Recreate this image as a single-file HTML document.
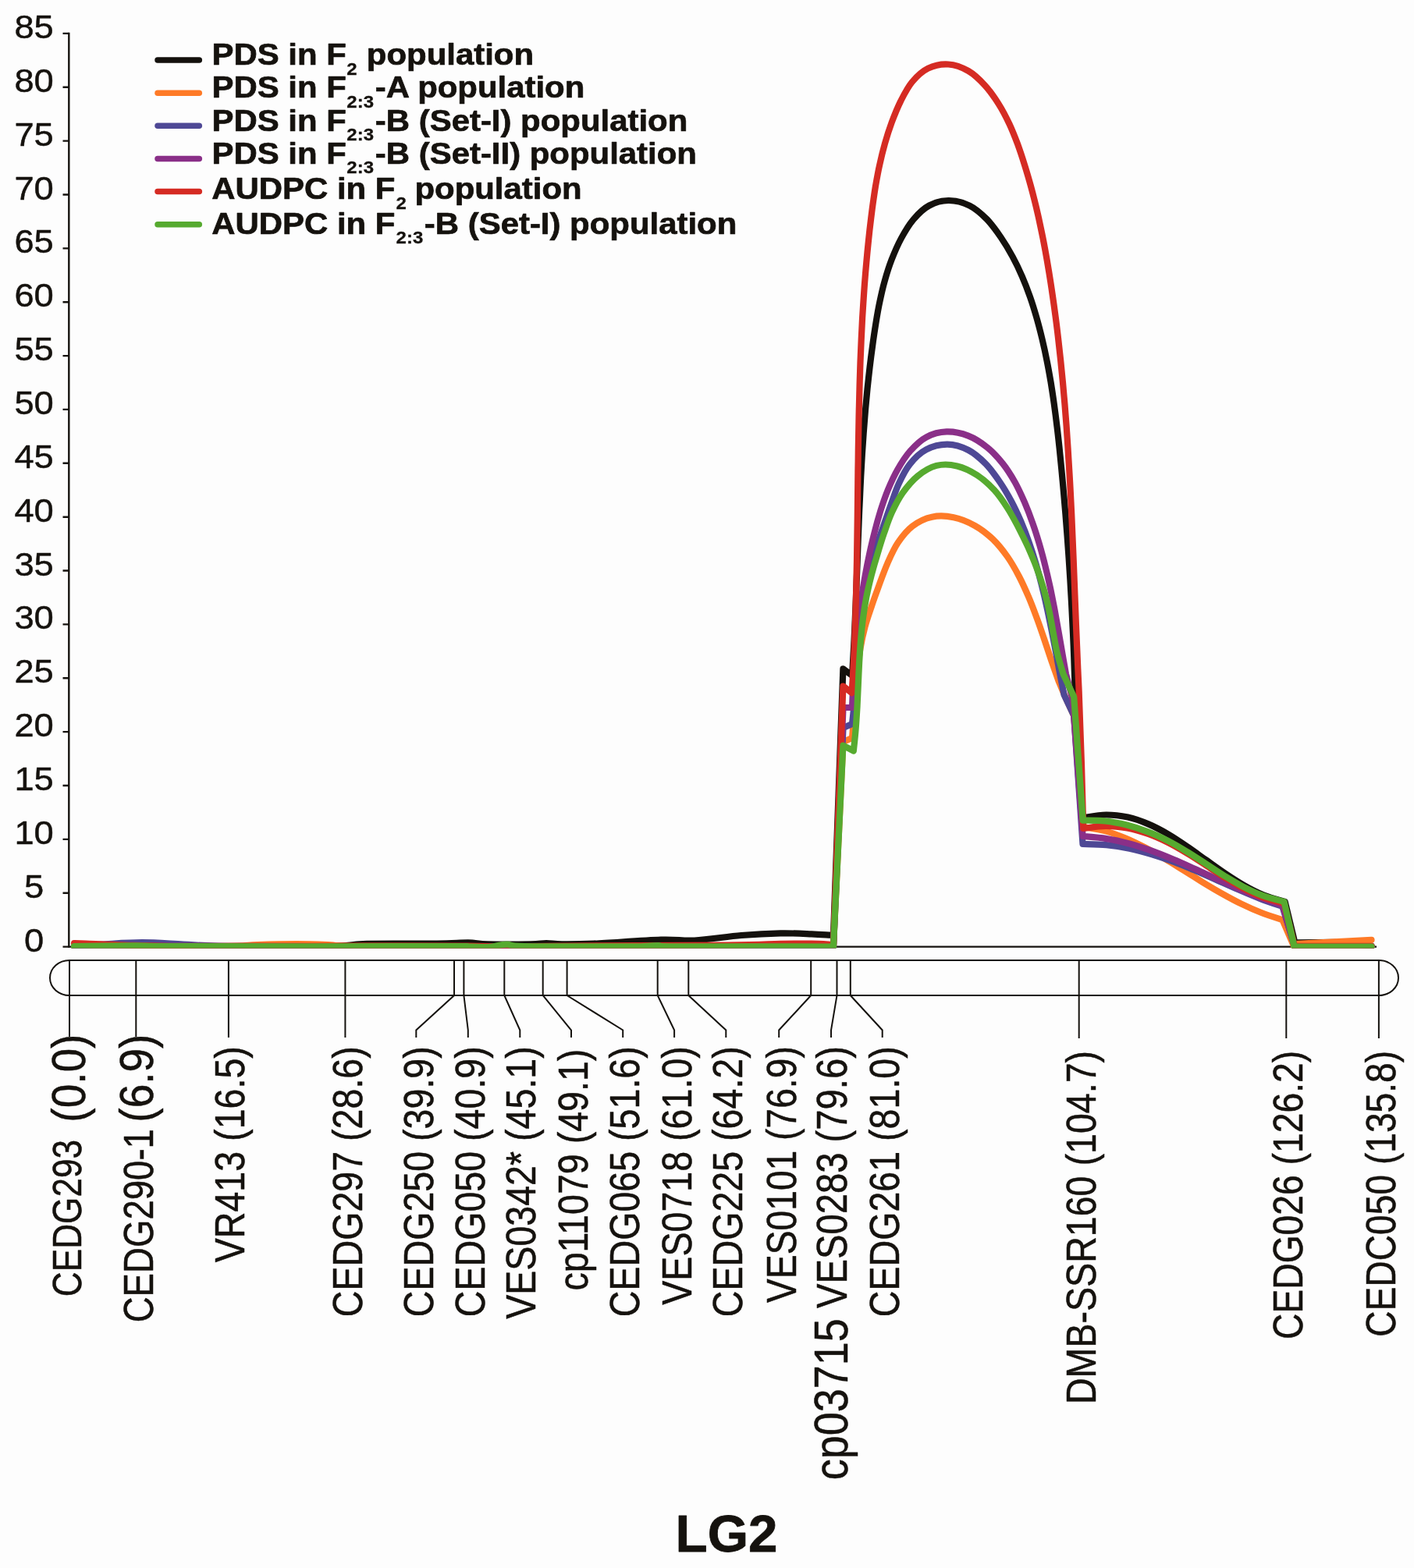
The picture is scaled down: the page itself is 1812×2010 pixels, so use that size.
<!DOCTYPE html>
<html lang="en">
<head>
<meta charset="utf-8">
<title>LG2 QTL likelihood plot</title>
<style>
html,body{margin:0;padding:0;background:#fdfdfd;}
body{width:1812px;height:2010px;overflow:hidden;}
svg{display:block;}
text{font-family:"Liberation Sans",Arial,Helvetica,sans-serif;fill:#15120e;}
.b{font-weight:bold;}
.ln{fill:none;stroke:#15120e;stroke-width:2;}
.cv{fill:none;stroke-width:7.5;stroke-linejoin:round;stroke-linecap:round;}
</style>
</head>
<body>
<svg width="1812" height="2010" viewBox="0 0 1812 2010">
<rect width="1812" height="2010" fill="#fdfdfd"/>
<g class="ln" style="stroke-width:2.4">
<path d="M88.3 41.7 V1214.8"/>
<path d="M80.5 1213.6H88.3M80.5 1144.7H88.3M80.5 1075.9H88.3M80.5 1007H88.3M80.5 938.1H88.3M80.5 869.3H88.3M80.5 800.4H88.3M80.5 731.5H88.3M80.5 662.7H88.3M80.5 593.8H88.3M80.5 524.9H88.3M80.5 456.1H88.3M80.5 387.2H88.3M80.5 318.4H88.3M80.5 249.5H88.3M80.5 180.6H88.3M80.5 111.8H88.3M80.5 42.9H88.3"/>
<path d="M88.3 1213.6H1764"/>
</g>
<g font-size="42.8" text-anchor="middle" style="stroke:#15120e;stroke-width:0.45;stroke-linejoin:round">
<text transform="translate(43.6 48.9) scale(1.06 1)">85</text>
<text transform="translate(43.6 117.8) scale(1.06 1)">80</text>
<text transform="translate(43.6 186.6) scale(1.06 1)">75</text>
<text transform="translate(43.6 255.5) scale(1.06 1)">70</text>
<text transform="translate(43.6 324.4) scale(1.06 1)">65</text>
<text transform="translate(43.6 393.2) scale(1.06 1)">60</text>
<text transform="translate(43.6 462.1) scale(1.06 1)">55</text>
<text transform="translate(43.6 530.9) scale(1.06 1)">50</text>
<text transform="translate(43.6 599.8) scale(1.06 1)">45</text>
<text transform="translate(43.6 668.7) scale(1.06 1)">40</text>
<text transform="translate(43.6 737.5) scale(1.06 1)">35</text>
<text transform="translate(43.6 806.4) scale(1.06 1)">30</text>
<text transform="translate(43.6 875.3) scale(1.06 1)">25</text>
<text transform="translate(43.6 944.1) scale(1.06 1)">20</text>
<text transform="translate(43.6 1013) scale(1.06 1)">15</text>
<text transform="translate(43.6 1081.9) scale(1.06 1)">10</text>
<text transform="translate(43.6 1150.7) scale(1.06 1)">5</text>
<text transform="translate(43.6 1219.6) scale(1.06 1)">0</text>
</g>
<clipPath id="plot"><rect x="90.2" y="0" width="1690" height="1215.5"/></clipPath>
<g class="cv" clip-path="url(#plot)" style="stroke-width:8.2">
<path stroke="#14110d" d="M95 1213C129.2 1213 244.2 1213.1 300 1213C355.8 1212.9 401.7 1213.1 430 1212.6C458.3 1212.1 448.3 1210.3 470 1209.8C491.7 1209.3 538.3 1209.8 560 1209.6C581.7 1209.4 589.2 1208.3 600 1208.4C610.8 1208.5 611.7 1210.1 625 1210.4C638.3 1210.7 667.5 1210.6 680 1210.4C692.5 1210.2 693.3 1209 700 1209C706.7 1209 709.8 1210.3 720 1210.4C730.2 1210.5 739.8 1210.6 761 1209.6C782.2 1208.6 825.5 1205.3 847 1204.6C868.5 1203.9 872.8 1206.4 890 1205.5C907.2 1204.6 931.7 1200.5 950 1199C968.3 1197.5 985 1196.7 1000 1196.4C1015 1196.1 1029.3 1196.9 1040 1197.3C1050.7 1197.7 1060 1198.5 1064 1198.7L1068 1199L1080.4 857.4L1092 866C1092.3 861.3 1093.1 847.3 1093.6 837.9C1094.2 828.5 1094.6 819.1 1095.1 809.7C1095.5 800.3 1095.9 790.9 1096.3 781.5C1096.7 772.1 1097.1 762.6 1097.4 753.2C1097.8 743.8 1098.1 734.3 1098.5 724.9C1098.8 715.4 1099.2 706 1099.5 696.5C1099.9 687.1 1100.3 677.6 1100.6 668.1C1101 658.7 1101.4 649.2 1101.9 639.8C1102.3 630.3 1102.7 620.9 1103.2 611.4C1103.7 602 1104.3 592.6 1104.8 583.1C1105.4 573.7 1106 564.3 1106.7 554.9C1107.4 545.5 1108.1 536.1 1108.9 526.7C1109.7 517.3 1110.6 507.9 1111.5 498.6C1112.5 489.2 1113.5 479.9 1114.6 470.5C1115.7 461.2 1116.9 451.9 1118.2 442.6C1119.4 433.3 1120.8 424.1 1122.3 414.8C1123.8 405.6 1125.3 396.4 1127.3 387.2C1129.2 378 1131.2 368.9 1133.8 359.8C1136.4 350.7 1139.2 341.6 1142.7 332.6C1146.2 323.7 1150.1 314.4 1154.7 305.9C1159.3 297.3 1164.5 288.4 1170.5 281.3C1176.5 274.3 1183.2 267.5 1190.8 263.5C1198.3 259.4 1207.4 256.9 1216 257C1224.6 257 1234.4 259.6 1242.5 263.6C1250.6 267.6 1257.9 274.3 1264.6 281C1271.3 287.8 1277.1 296.2 1282.6 304.2C1288.1 312.2 1293 320.5 1297.5 328.9C1302.1 337.3 1306.1 345.8 1309.8 354.4C1313.6 363.1 1316.9 371.8 1320 380.7C1323.1 389.5 1325.8 398.4 1328.4 407.4C1331 416.4 1333.3 425.5 1335.5 434.6C1337.7 443.8 1339.7 452.9 1341.5 462.2C1343.4 471.4 1345 480.7 1346.6 490C1348.1 499.3 1349.5 508.6 1350.8 518C1352.1 527.4 1353.3 536.7 1354.4 546.1C1355.6 555.5 1356.6 565 1357.6 574.4C1358.6 583.8 1359.5 593.2 1360.4 602.6C1361.3 612 1362.1 621.4 1363 630.8C1363.8 640.2 1364.6 649.6 1365.4 659C1366.1 668.4 1366.9 677.8 1367.6 687.2C1368.3 696.6 1368.9 706 1369.6 715.4C1370.2 724.7 1370.8 734.1 1371.4 743.5C1372 752.9 1372.5 762.3 1373 771.7C1373.5 781.1 1374 790.5 1374.4 799.9C1374.9 809.3 1375.3 818.8 1375.7 828.2C1376.1 837.6 1376.4 847.1 1376.7 856.5C1377.1 866 1377.5 880.2 1377.6 884.9L1387.5 1048.5C1392.5 1047.8 1407.7 1044.7 1417.4 1044.5C1427 1044.4 1436.2 1045.7 1445.3 1047.6C1454.3 1049.6 1463 1052.8 1471.6 1056.4C1480.2 1060 1488.5 1064.5 1496.8 1069.3C1505 1074.1 1513.1 1079.6 1521.2 1085.1C1529.2 1090.6 1537.2 1096.5 1545.2 1102.2C1553.2 1107.9 1561.2 1113.8 1569.3 1119.2C1577.5 1124.7 1585.6 1130.1 1594 1134.8C1602.4 1139.6 1610.8 1144 1619.6 1147.6C1628.4 1151.1 1642.2 1154.6 1646.7 1156L1659.5 1209L1663 1208.4L1711 1207.9L1757.5 1212.5"/>
<path stroke="#fe7a27" d="M95 1213C125.8 1213 240.8 1213.3 280 1213C319.2 1212.7 313.3 1211.5 330 1211C346.7 1210.5 365 1210.2 380 1210.2C395 1210.2 408.3 1210.6 420 1211C431.7 1211.4 420 1212.4 450 1212.8C480 1213.2 525 1213.1 600 1213.2C675 1213.3 822 1213.2 900 1213.2C978 1213.2 1040 1213.2 1068 1213.2L1080.5 951L1092 946C1092.4 941.2 1093.6 927 1094.3 917.4C1095.1 907.8 1095.6 898.1 1096.3 888.5C1097 878.9 1097.7 869.2 1098.7 859.6C1099.8 850.1 1100.9 840.5 1102.5 831.1C1104.1 821.7 1106.1 812.5 1108.5 803.4C1110.9 794.3 1114.1 785.5 1117.1 776.6C1120.1 767.6 1123.3 758.9 1126.6 749.8C1130 740.8 1133.2 731.3 1137.2 722.3C1141.2 713.3 1145.2 703.8 1150.6 695.8C1155.9 687.9 1162 680 1169.3 674.5C1176.5 669 1185.4 664.5 1194.2 662.7C1203 660.8 1212.8 661.3 1222 663.2C1231.2 665 1240.8 669.1 1249.2 673.8C1257.6 678.4 1265.4 684.7 1272.4 691.3C1279.3 697.9 1285.3 705.6 1290.9 713.5C1296.4 721.3 1301.2 729.9 1305.7 738.5C1310.2 747 1314.1 755.9 1317.9 764.7C1321.7 773.5 1325 782.4 1328.3 791.4C1331.7 800.3 1334.7 809.3 1337.8 818.4C1340.9 827.4 1343.8 836.5 1346.9 845.6C1350.1 854.7 1354.9 868.4 1356.5 873L1364.5 892L1376.2 917.5L1388 1060C1392.7 1060.9 1406.9 1062.7 1415.9 1065.1C1425 1067.5 1433.7 1070.9 1442.4 1074.5C1451.1 1078.1 1459.5 1082.3 1467.9 1086.7C1476.2 1091.1 1484.4 1095.9 1492.6 1100.8C1500.8 1105.6 1508.9 1110.8 1517 1115.8C1525.1 1120.8 1533.1 1125.9 1541.2 1130.9C1549.3 1135.8 1557.4 1140.7 1565.7 1145.3C1573.9 1149.9 1582.2 1154.5 1590.7 1158.6C1599.1 1162.7 1607.7 1166.6 1616.5 1170C1625.2 1173.5 1638.9 1177.6 1643.4 1179.1L1658 1213L1663 1209.8L1757.5 1204.8"/>
<path stroke="#4e4895" d="M95 1212.5C100.8 1212.2 115.5 1211.2 130 1210.5C144.5 1209.8 164.5 1208.2 182 1208.2C199.5 1208.2 218.7 1209.8 235 1210.5C251.3 1211.2 252.5 1212.2 280 1212.6C307.5 1213 268.7 1212.9 400 1213C531.3 1213.1 956.7 1213.2 1068 1213.2L1080.5 933L1092 928C1092.5 923.4 1094 909.5 1094.8 900.1C1095.5 890.7 1096.1 881.1 1096.7 871.5C1097.3 861.9 1097.8 852.2 1098.5 842.6C1099.1 832.9 1099.7 823.1 1100.5 813.5C1101.4 803.8 1102.3 794.2 1103.5 784.6C1104.7 775.1 1106.1 765.6 1108 756.3C1109.8 746.9 1112 737.8 1114.4 728.7C1116.8 719.6 1119.7 710.7 1122.6 701.7C1125.5 692.7 1128.8 683.8 1131.9 674.7C1135.1 665.6 1138.2 656.4 1141.5 647.3C1144.9 638.1 1147.8 628.5 1151.9 619.8C1155.9 611.1 1160.1 602.3 1165.9 595.1C1171.7 587.8 1178.8 580.6 1186.8 576.4C1194.9 572.1 1205.1 569.5 1214.2 569.6C1223.2 569.7 1232.9 572.8 1241 577C1249.2 581.2 1256.5 587.9 1263.2 594.7C1269.9 601.6 1275.8 610 1281.3 618C1286.8 626 1291.6 634.3 1296.1 642.7C1300.6 651.1 1304.5 659.7 1308.3 668.4C1312 677.1 1315.4 685.9 1318.5 694.9C1321.7 703.8 1324.6 712.9 1327.3 722C1330 731.1 1332.5 740.4 1334.8 749.7C1337.1 758.9 1339.3 768.3 1341.3 777.7C1343.4 787.1 1345.3 796.5 1347.2 805.9C1349.1 815.3 1350.9 824.8 1352.7 834.2C1354.5 843.6 1356.2 853.1 1358 862.4C1359.8 871.8 1362.6 885.7 1363.5 890.4L1376.2 917.5L1387.5 1082C1392.6 1082.2 1407.9 1082.2 1417.9 1083.2C1427.8 1084.2 1437.7 1085.8 1447.4 1087.8C1457.1 1089.8 1466.7 1092.4 1476.3 1095.3C1485.8 1098.1 1495.2 1101.5 1504.5 1104.9C1513.9 1108.4 1523.1 1112.3 1532.4 1116.2C1541.6 1120.1 1550.7 1124.3 1559.9 1128.4C1569.1 1132.5 1578.2 1136.7 1587.4 1140.6C1596.6 1144.6 1605.8 1148.6 1615.1 1152.1C1624.5 1155.7 1638.7 1160.4 1643.4 1162L1659 1213.4L1757.5 1213.4"/>
<path stroke="#8a2f88" d="M95 1213C145.8 1213 237.8 1213 400 1213C562.2 1213 956.7 1213.2 1068 1213.2L1080.5 907L1092 907C1092.2 902.2 1092.8 888 1093.3 878.5C1093.8 869 1094.3 859.5 1095 850.1C1095.7 840.6 1096.5 831.2 1097.4 821.8C1098.3 812.4 1099.3 803 1100.4 793.6C1101.5 784.3 1102.8 774.9 1104.1 765.6C1105.5 756.3 1107.1 747 1108.7 737.7C1110.4 728.4 1112.2 719.2 1114.2 709.9C1116.2 700.7 1118.3 691.5 1120.7 682.3C1123 673.1 1125.5 663.9 1128.3 654.9C1131.2 645.8 1134.2 636.8 1137.8 628C1141.5 619.2 1145.4 610.3 1150.2 602C1154.9 593.7 1160.2 585.1 1166.4 578.1C1172.6 571.2 1179.4 564.4 1187.2 560.3C1194.9 556.2 1204.1 553.7 1213 553.4C1221.9 553.1 1232 555.2 1240.7 558.6C1249.4 562 1257.8 567.6 1265.2 573.6C1272.6 579.6 1279.2 587 1285.1 594.4C1291 601.8 1296 610 1300.7 618.2C1305.3 626.5 1309.2 635.2 1313 643.9C1316.7 652.5 1320.1 661.4 1323.2 670.3C1326.4 679.2 1329.2 688.2 1331.9 697.3C1334.5 706.3 1337 715.4 1339.2 724.6C1341.5 733.8 1343.6 743 1345.6 752.2C1347.6 761.5 1349.4 770.8 1351.2 780.1C1352.9 789.4 1354.6 798.7 1356.2 808C1357.9 817.4 1359.5 826.7 1361.1 836.1C1362.7 845.4 1365.2 859.3 1366 864L1374.6 896.5L1387.6 1072C1392.7 1072.5 1408 1073.5 1417.9 1075.1C1427.8 1076.6 1437.6 1078.9 1447.3 1081.5C1456.9 1084.1 1466.4 1087.3 1475.9 1090.7C1485.3 1094 1494.6 1097.9 1503.9 1101.8C1513.2 1105.6 1522.4 1109.9 1531.6 1114C1540.9 1118.2 1550 1122.6 1559.2 1126.8C1568.5 1131 1577.7 1135.2 1586.9 1139.2C1596.2 1143.2 1605.5 1147.1 1614.9 1150.6C1624.3 1154.2 1638.7 1158.7 1643.4 1160.3L1659 1213.4L1757.5 1213.4"/>
<path stroke="#d52b23" d="M95 1209.1C97.5 1209.2 99.2 1209.2 110 1209.6C120.8 1210 141.7 1211 160 1211.5C178.3 1212 180 1212.6 220 1212.8C260 1213 336.7 1212.8 400 1212.8C463.3 1212.8 558.3 1212.3 600 1212.6C641.7 1212.9 633.3 1214.5 650 1214.5C666.7 1214.5 653.3 1213.3 700 1212.8C746.7 1212.3 880 1212 930 1211.5C980 1211 981.7 1210.1 1000 1209.8C1018.3 1209.5 1029 1209.4 1040 1209.6C1051 1209.8 1061.7 1210.6 1066 1210.8L1068 1211.2L1080.4 879.5L1091.6 888.3C1091.9 883.6 1092.8 869.5 1093.3 860.1C1093.8 850.7 1094.3 841.3 1094.7 831.9C1095.1 822.5 1095.5 813.1 1095.8 803.7C1096.1 794.3 1096.4 784.8 1096.7 775.4C1097 766 1097.2 756.6 1097.4 747.1C1097.6 737.7 1097.8 728.3 1098 718.8C1098.1 709.4 1098.3 699.9 1098.4 690.5C1098.5 681 1098.7 671.6 1098.8 662.1C1098.9 652.7 1099 643.2 1099.1 633.8C1099.2 624.3 1099.3 614.9 1099.4 605.4C1099.6 596 1099.7 586.5 1099.8 577.1C1100 567.6 1100.1 558.2 1100.3 548.8C1100.5 539.3 1100.6 529.9 1100.9 520.4C1101.1 511 1101.3 501.6 1101.6 492.1C1101.9 482.7 1102.2 473.3 1102.5 463.8C1102.9 454.4 1103.3 445 1103.7 435.6C1104.1 426.2 1104.6 416.8 1105.1 407.4C1105.7 398 1106.3 388.6 1106.9 379.2C1107.5 369.8 1108.2 360.4 1109 351C1109.8 341.7 1110.6 332.3 1111.5 323C1112.4 313.6 1113.4 304.3 1114.4 294.9C1115.5 285.6 1116.6 276.2 1117.8 266.9C1119.1 257.6 1120.4 248.3 1121.9 239C1123.5 229.8 1125.1 220.5 1127.2 211.3C1129.2 202.1 1131.4 192.9 1134 183.8C1136.6 174.7 1139.5 165.6 1142.8 156.6C1146.2 147.6 1149.8 138.4 1154.1 129.8C1158.5 121.2 1163 112.1 1168.9 105C1174.7 98 1181.5 91.4 1189.3 87.6C1197.1 83.9 1206.8 81.9 1215.4 82.5C1224 83 1232.9 86.4 1240.8 90.9C1248.6 95.4 1255.9 102.6 1262.4 109.7C1268.9 116.8 1274.7 125.4 1279.9 133.6C1285.1 141.8 1289.4 150.3 1293.4 158.8C1297.4 167.3 1300.8 176.1 1304.1 184.8C1307.3 193.6 1310.2 202.5 1313 211.4C1315.8 220.4 1318.5 229.4 1320.9 238.4C1323.4 247.5 1325.7 256.6 1327.9 265.8C1330.1 274.9 1332.1 284.1 1334 293.4C1336 302.6 1337.8 311.9 1339.5 321.2C1341.2 330.4 1342.8 339.8 1344.3 349.1C1345.8 358.4 1347.3 367.8 1348.6 377.1C1350 386.4 1351.3 395.8 1352.5 405.1C1353.8 414.5 1354.9 423.9 1356 433.2C1357.1 442.6 1358.1 452 1359.1 461.3C1360.1 470.7 1361 480.1 1361.9 489.5C1362.8 498.9 1363.6 508.3 1364.4 517.7C1365.1 527.1 1365.9 536.5 1366.6 545.9C1367.2 555.3 1367.9 564.7 1368.5 574.1C1369.1 583.5 1369.7 592.9 1370.2 602.3C1370.8 611.7 1371.3 621.2 1371.8 630.6C1372.3 640 1372.7 649.4 1373.2 658.8C1373.6 668.3 1374 677.7 1374.4 687.1C1374.8 696.5 1375.2 706 1375.6 715.4C1376 724.8 1376.4 734.2 1376.7 743.7C1377.1 753.1 1377.5 762.5 1377.8 772C1378.2 781.4 1378.6 790.8 1378.9 800.2C1379.3 809.7 1379.7 819.1 1380.1 828.5C1380.5 837.9 1380.9 847.3 1381.3 856.8C1381.7 866.2 1382.4 880.3 1382.6 885L1386 980L1388.3 1062C1393 1061.5 1407.4 1059 1416.8 1058.9C1426.1 1058.8 1435.4 1059.9 1444.5 1061.5C1453.6 1063.2 1462.5 1065.8 1471.3 1068.9C1480 1072 1488.6 1075.9 1496.9 1080C1505.3 1084.2 1513.4 1089 1521.5 1093.9C1529.6 1098.8 1537.4 1104.1 1545.4 1109.3C1553.3 1114.4 1561.1 1119.8 1569.1 1124.7C1577.1 1129.6 1585.1 1134.6 1593.3 1138.9C1601.6 1143.2 1609.9 1147.3 1618.6 1150.4C1627.3 1153.6 1641.1 1156.7 1645.6 1158L1659 1212.8L1757.5 1212.8"/>
<path stroke="#56aa2f" d="M95 1213.2C108.3 1213.1 152.5 1212.4 175 1212.4C197.5 1212.4 165.8 1213.1 230 1213.2C294.2 1213.3 498.3 1213.2 560 1213.2C621.7 1213.2 589 1213.2 600 1213.3C611 1213.4 617.8 1214.5 626 1214C634.2 1213.5 641.3 1210.8 649 1210.6C656.7 1210.4 646.8 1212.5 672 1213C697.2 1213.5 773.7 1213.3 800 1213.3C826.3 1213.3 822.7 1213 830 1212.8C837.3 1212.6 839 1211.9 844 1212C849 1212.1 834 1213.1 860 1213.3C886 1213.5 965.7 1213.4 1000 1213.4C1034.3 1213.4 1055 1213.5 1066 1213.5L1068 1213.5L1080.4 955.6L1093.8 962.5C1094.3 957.8 1095.9 943.8 1096.6 934.4C1097.4 925 1097.9 915.6 1098.5 906.2C1099 896.7 1099.3 887.3 1099.8 877.8C1100.2 868.4 1100.6 858.9 1101.1 849.5C1101.7 840 1102.2 830.6 1103 821.2C1103.8 811.8 1104.7 802.4 1105.9 793.1C1107.1 783.8 1108.5 774.5 1110.3 765.3C1112.1 756 1114.3 746.8 1116.6 737.7C1119 728.6 1121.6 719.5 1124.4 710.5C1127.1 701.4 1129.8 692.4 1132.9 683.5C1136 674.6 1138.9 665.6 1142.8 657.1C1146.8 648.5 1151 639.9 1156.5 632.1C1162.1 624.3 1168.7 616.1 1176 610.2C1183.2 604.3 1191.6 599.1 1200 596.9C1208.5 594.8 1217.8 595.3 1226.5 597.4C1235.2 599.4 1244.3 604 1252.2 609.1C1260.1 614.2 1267.6 621.1 1274 628.1C1280.5 635 1285.7 643 1290.8 650.9C1296 658.8 1300.4 667.3 1304.8 675.6C1309.1 684 1313.3 692.4 1317.2 700.9C1321 709.5 1324.7 718.1 1328 726.8C1331.3 735.6 1334.3 744.4 1337 753.4C1339.7 762.4 1342 771.6 1344 780.8C1346.1 790.1 1347.5 799.5 1349.3 808.9C1351.1 818.2 1352.5 827.7 1354.7 836.9C1356.9 846.1 1361.2 859.4 1362.5 863.9L1376.2 893.2L1387.7 1051.6C1392.4 1051.8 1406.8 1051.5 1416.2 1052.5C1425.6 1053.5 1434.8 1055.3 1443.9 1057.5C1453 1059.8 1461.9 1062.7 1470.6 1066.1C1479.4 1069.4 1488 1073.4 1496.3 1077.6C1504.7 1081.9 1512.9 1086.8 1520.9 1091.7C1529 1096.6 1536.9 1101.9 1544.8 1107C1552.8 1112.2 1560.6 1117.5 1568.6 1122.5C1576.7 1127.4 1584.7 1132.3 1593 1136.6C1601.3 1140.9 1609.7 1145 1618.4 1148.2C1627.2 1151.4 1641.1 1154.6 1645.6 1155.9L1658.6 1213.5L1757.5 1213.5"/>
</g>
<g class="cv">
<path stroke="#14110d" d="M202 77H255.3"/>
<path stroke="#fe7a27" d="M202 119.2H255.3"/>
<path stroke="#4e4895" d="M202 161.3H255.3"/>
<path stroke="#8a2f88" d="M202 203.4H255.3"/>
<path stroke="#d52b23" d="M202 245.6H255.3"/>
<path stroke="#56aa2f" d="M202 287.8H255.3"/>
</g>
<g class="b" style="stroke:#15120e;stroke-width:0.7;stroke-linejoin:round">
<text font-size="38" transform="translate(271.5 83.1) scale(1.103 1)">PDS in F</text>
<text font-size="22" style="stroke-width:0.3" transform="translate(444.37 95.5) scale(1.09 1)">2</text>
<text font-size="38" transform="translate(469.84 83.1) scale(1.103 1)">population</text>
<text font-size="38" transform="translate(271.5 125.4) scale(1.103 1)">PDS in F</text>
<text font-size="22" style="stroke-width:0.3" transform="translate(444.37 137.8) scale(1.09 1)">2:3</text>
<text font-size="38" transform="translate(480.86 125.4) scale(1.103 1)">-A population</text>
<text font-size="38" transform="translate(271.5 167.6) scale(1.103 1)">PDS in F</text>
<text font-size="22" style="stroke-width:0.3" transform="translate(444.37 180) scale(1.09 1)">2:3</text>
<text font-size="38" transform="translate(480.86 167.6) scale(1.103 1)">-B (Set-I) population</text>
<text font-size="38" transform="translate(271.5 209.6) scale(1.103 1)">PDS in F</text>
<text font-size="22" style="stroke-width:0.3" transform="translate(444.37 222) scale(1.09 1)">2:3</text>
<text font-size="38" transform="translate(480.86 209.6) scale(1.103 1)">-B (Set-II) population</text>
<text font-size="38" transform="translate(271.26 255.3) scale(1.103 1)">AUDPC in F</text>
<text font-size="22" style="stroke-width:0.3" transform="translate(507.57 267.7) scale(1.09 1)">2</text>
<text font-size="38" transform="translate(531.44 255.3) scale(1.103 1)">population</text>
<text font-size="38" transform="translate(271.26 299.6) scale(1.103 1)">AUDPC in F</text>
<text font-size="22" style="stroke-width:0.3" transform="translate(507.57 312) scale(1.09 1)">2:3</text>
<text font-size="38" transform="translate(543.86 299.6) scale(1.103 1)">-B (Set-I) population</text>
</g>
<g class="ln" style="stroke-width:2">
<path d="M89 1231H1767A25 22.5 0 0 1 1767 1276H89A25 22.5 0 0 1 89 1231Z"/>
<path d="M89 1231V1276V1329M174.3 1231V1276V1329M292.9 1231V1276V1330M442.4 1231V1276V1330M582 1231V1276L533.3 1320.5V1330M594.4 1231V1276L599.8 1320.5V1330M646.3 1231V1276L666.3 1320.5V1330M695.7 1231V1276L732 1320.5V1330M726.6 1231V1276L798.2 1320.5V1330M842.7 1231V1276L864.1 1320.5V1330M882.3 1231V1276L930.3 1320.5V1330M1039.2 1231V1276L998.2 1320.5V1330M1072.5 1231V1276L1065 1320.5V1330M1089.8 1231V1276L1130.7 1320.5V1330M1382.7 1231V1276V1331M1648.3 1231V1276V1331M1766.9 1231V1276V1331" style="stroke-linejoin:miter"/>
</g>
<g style="stroke:#15120e;stroke-width:0.45;stroke-linejoin:round">
<text font-size="44.2" transform="translate(103.6 1662.24) rotate(-90) scale(1 1.17)">CEDG293</text>
<text font-size="55.0" transform="translate(109 1438.68) rotate(-90) scale(1 1.12)">(0.0)</text>
<text font-size="45.6" transform="translate(195.5 1695.32) rotate(-90) scale(1 1.17)">CEDG290-1</text>
<text font-size="55.0" transform="translate(195.9 1438.68) rotate(-90) scale(1 1.12)">(6.9)</text>
<text font-size="46.6" transform="translate(313.2 1618.28) rotate(-90) scale(1 1.17)">VR413 (16.5)</text>
<text font-size="46.6" transform="translate(463.6 1688.18) rotate(-90) scale(1 1.17)">CEDG297 (28.6)</text>
<text font-size="46.6" transform="translate(554.5 1688.18) rotate(-90) scale(1 1.17)">CEDG250 (39.9)</text>
<text font-size="46.6" transform="translate(621.3 1688.18) rotate(-90) scale(1 1.17)">CEDG050 (40.9)</text>
<text font-size="46.6" transform="translate(686.4 1690.84) rotate(-90) scale(1 1.17)">VES0342* (45.1)</text>
<text font-size="46.6" transform="translate(753 1654.59) rotate(-90) scale(1 1.17)">cp11079 (49.1)</text>
<text font-size="46.6" transform="translate(819.4 1688.18) rotate(-90) scale(1 1.17)">CEDG065 (51.6)</text>
<text font-size="46.6" transform="translate(885.6 1672.7) rotate(-90) scale(1 1.17)">VES0718 (61.0)</text>
<text font-size="46.6" transform="translate(951.3 1688.18) rotate(-90) scale(1 1.17)">CEDG225 (64.2)</text>
<text font-size="46.2" transform="translate(1019.5 1669.88) rotate(-90) scale(1 1.17)">VES0101 (76.9)</text>
<text font-size="54.0" transform="translate(1086.3 1897.29) rotate(-90) scale(1 1.14)">cp03715</text>
<text font-size="47.2" transform="translate(1085.4 1676.94) rotate(-90) scale(1 1.17)">VES0283 (79.6)</text>
<text font-size="46.6" transform="translate(1152 1688.18) rotate(-90) scale(1 1.17)">CEDG261 (81.0)</text>
<text font-size="46.6" transform="translate(1404 1800.05) rotate(-90) scale(1 1.17)">DMB-SSR160 (104.7)</text>
<text font-size="46.25" transform="translate(1669 1717.01) rotate(-90) scale(1 1.17)">CEDG026 (126.2)</text>
<text font-size="46.15" transform="translate(1787.5 1713.65) rotate(-90) scale(1 1.17)">CEDC050 (135.8)</text>
</g>
<text class="b" style="stroke:#15120e;stroke-width:0.8;stroke-linejoin:round" font-size="66" text-anchor="middle" transform="translate(931 1989) scale(1.02 1)">LG2</text>
</svg>
</body>
</html>
